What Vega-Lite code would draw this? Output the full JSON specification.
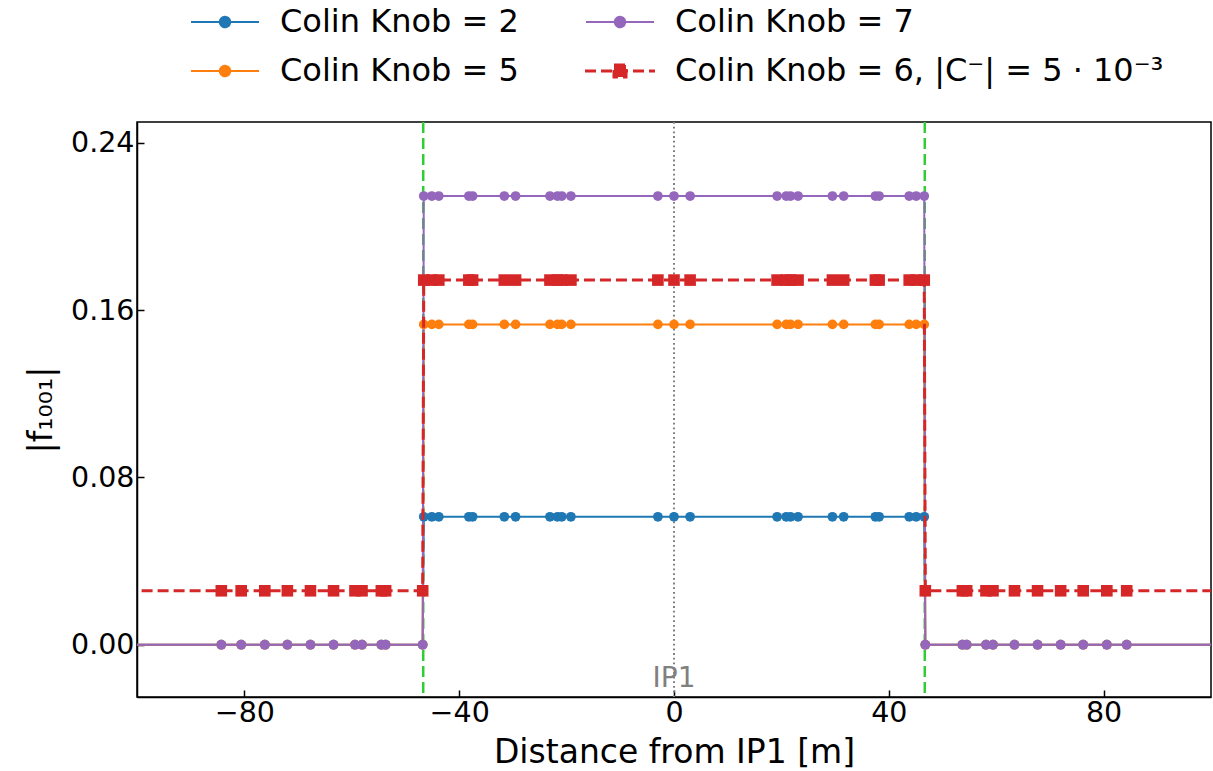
{
  "$schema": "https://vega.github.io/schema/vega-lite/v6.json",
  "width": 1074,
  "height": 575,
  "autosize": "none",
  "padding": {"left": 137, "top": 122, "right": 2, "bottom": 74},
  "config": {
    "font": "DejaVu Sans",
    "view": {"stroke": "#000000", "strokeWidth": 1.5},
    "axis": {
      "grid": false,
      "domainColor": "#000000",
      "domainWidth": 1.5,
      "tickColor": "#000000",
      "tickWidth": 1.5,
      "tickSize": -7,
      "labelFont": "DejaVu Sans",
      "labelFontSize": 28.5,
      "labelColor": "#000000",
      "titleFont": "DejaVu Sans",
      "titleFontSize": 33,
      "titleFontWeight": "normal",
      "titleColor": "#000000"
    }
  },
  "datasets": {
    "curves": [
      {"k":"2","x":-120,"y":0},{"k":"2","x":-84.3,"y":0},{"k":"2","x":-80.6,"y":0},{"k":"2","x":-76.2,"y":0},{"k":"2","x":-72.0,"y":0},{"k":"2","x":-67.7,"y":0},{"k":"2","x":-63.4,"y":0},{"k":"2","x":-59.4,"y":0},{"k":"2","x":-58.1,"y":0},{"k":"2","x":-54.5,"y":0},{"k":"2","x":-53.7,"y":0},{"k":"2","x":-46.8,"y":0},
      {"k":"2","x":-46.6,"y":0.0612},{"k":"2","x":-45.1,"y":0.0612},{"k":"2","x":-43.8,"y":0.0612},{"k":"2","x":-38.2,"y":0.0612},{"k":"2","x":-37.5,"y":0.0612},{"k":"2","x":-31.6,"y":0.0612},{"k":"2","x":-29.5,"y":0.0612},{"k":"2","x":-23.1,"y":0.0612},{"k":"2","x":-21.7,"y":0.0612},{"k":"2","x":-20.9,"y":0.0612},{"k":"2","x":-19.2,"y":0.0612},{"k":"2","x":-3.0,"y":0.0612},{"k":"2","x":0,"y":0.0612},{"k":"2","x":3.0,"y":0.0612},{"k":"2","x":19.2,"y":0.0612},{"k":"2","x":20.9,"y":0.0612},{"k":"2","x":21.7,"y":0.0612},{"k":"2","x":23.1,"y":0.0612},{"k":"2","x":29.5,"y":0.0612},{"k":"2","x":31.6,"y":0.0612},{"k":"2","x":37.5,"y":0.0612},{"k":"2","x":38.2,"y":0.0612},{"k":"2","x":43.8,"y":0.0612},{"k":"2","x":45.1,"y":0.0612},{"k":"2","x":46.6,"y":0.0612},
      {"k":"2","x":46.8,"y":0},{"k":"2","x":53.7,"y":0},{"k":"2","x":54.5,"y":0},{"k":"2","x":58.1,"y":0},{"k":"2","x":59.4,"y":0},{"k":"2","x":63.4,"y":0},{"k":"2","x":67.7,"y":0},{"k":"2","x":72.0,"y":0},{"k":"2","x":76.2,"y":0},{"k":"2","x":80.6,"y":0},{"k":"2","x":84.3,"y":0},{"k":"2","x":120,"y":0},

      {"k":"5","x":-120,"y":0},{"k":"5","x":-84.3,"y":0},{"k":"5","x":-80.6,"y":0},{"k":"5","x":-76.2,"y":0},{"k":"5","x":-72.0,"y":0},{"k":"5","x":-67.7,"y":0},{"k":"5","x":-63.4,"y":0},{"k":"5","x":-59.4,"y":0},{"k":"5","x":-58.1,"y":0},{"k":"5","x":-54.5,"y":0},{"k":"5","x":-53.7,"y":0},{"k":"5","x":-46.8,"y":0},
      {"k":"5","x":-46.6,"y":0.1532},{"k":"5","x":-45.1,"y":0.1532},{"k":"5","x":-43.8,"y":0.1532},{"k":"5","x":-38.2,"y":0.1532},{"k":"5","x":-37.5,"y":0.1532},{"k":"5","x":-31.6,"y":0.1532},{"k":"5","x":-29.5,"y":0.1532},{"k":"5","x":-23.1,"y":0.1532},{"k":"5","x":-21.7,"y":0.1532},{"k":"5","x":-20.9,"y":0.1532},{"k":"5","x":-19.2,"y":0.1532},{"k":"5","x":-3.0,"y":0.1532},{"k":"5","x":0,"y":0.1532},{"k":"5","x":3.0,"y":0.1532},{"k":"5","x":19.2,"y":0.1532},{"k":"5","x":20.9,"y":0.1532},{"k":"5","x":21.7,"y":0.1532},{"k":"5","x":23.1,"y":0.1532},{"k":"5","x":29.5,"y":0.1532},{"k":"5","x":31.6,"y":0.1532},{"k":"5","x":37.5,"y":0.1532},{"k":"5","x":38.2,"y":0.1532},{"k":"5","x":43.8,"y":0.1532},{"k":"5","x":45.1,"y":0.1532},{"k":"5","x":46.6,"y":0.1532},
      {"k":"5","x":46.8,"y":0},{"k":"5","x":53.7,"y":0},{"k":"5","x":54.5,"y":0},{"k":"5","x":58.1,"y":0},{"k":"5","x":59.4,"y":0},{"k":"5","x":63.4,"y":0},{"k":"5","x":67.7,"y":0},{"k":"5","x":72.0,"y":0},{"k":"5","x":76.2,"y":0},{"k":"5","x":80.6,"y":0},{"k":"5","x":84.3,"y":0},{"k":"5","x":120,"y":0},

      {"k":"7","x":-120,"y":0},{"k":"7","x":-84.3,"y":0},{"k":"7","x":-80.6,"y":0},{"k":"7","x":-76.2,"y":0},{"k":"7","x":-72.0,"y":0},{"k":"7","x":-67.7,"y":0},{"k":"7","x":-63.4,"y":0},{"k":"7","x":-59.4,"y":0},{"k":"7","x":-58.1,"y":0},{"k":"7","x":-54.5,"y":0},{"k":"7","x":-53.7,"y":0},{"k":"7","x":-46.8,"y":0},
      {"k":"7","x":-46.6,"y":0.2146},{"k":"7","x":-45.1,"y":0.2146},{"k":"7","x":-43.8,"y":0.2146},{"k":"7","x":-38.2,"y":0.2146},{"k":"7","x":-37.5,"y":0.2146},{"k":"7","x":-31.6,"y":0.2146},{"k":"7","x":-29.5,"y":0.2146},{"k":"7","x":-23.1,"y":0.2146},{"k":"7","x":-21.7,"y":0.2146},{"k":"7","x":-20.9,"y":0.2146},{"k":"7","x":-19.2,"y":0.2146},{"k":"7","x":-3.0,"y":0.2146},{"k":"7","x":0,"y":0.2146},{"k":"7","x":3.0,"y":0.2146},{"k":"7","x":19.2,"y":0.2146},{"k":"7","x":20.9,"y":0.2146},{"k":"7","x":21.7,"y":0.2146},{"k":"7","x":23.1,"y":0.2146},{"k":"7","x":29.5,"y":0.2146},{"k":"7","x":31.6,"y":0.2146},{"k":"7","x":37.5,"y":0.2146},{"k":"7","x":38.2,"y":0.2146},{"k":"7","x":43.8,"y":0.2146},{"k":"7","x":45.1,"y":0.2146},{"k":"7","x":46.6,"y":0.2146},
      {"k":"7","x":46.8,"y":0},{"k":"7","x":53.7,"y":0},{"k":"7","x":54.5,"y":0},{"k":"7","x":58.1,"y":0},{"k":"7","x":59.4,"y":0},{"k":"7","x":63.4,"y":0},{"k":"7","x":67.7,"y":0},{"k":"7","x":72.0,"y":0},{"k":"7","x":76.2,"y":0},{"k":"7","x":80.6,"y":0},{"k":"7","x":84.3,"y":0},{"k":"7","x":120,"y":0},

      {"k":"6","x":-120,"y":0.0258},{"k":"6","x":-84.3,"y":0.0258},{"k":"6","x":-80.6,"y":0.0258},{"k":"6","x":-76.2,"y":0.0258},{"k":"6","x":-72.0,"y":0.0258},{"k":"6","x":-67.7,"y":0.0258},{"k":"6","x":-63.4,"y":0.0258},{"k":"6","x":-59.4,"y":0.0258},{"k":"6","x":-58.1,"y":0.0258},{"k":"6","x":-54.5,"y":0.0258},{"k":"6","x":-53.7,"y":0.0258},{"k":"6","x":-46.8,"y":0.0258},
      {"k":"6","x":-46.6,"y":0.1744},{"k":"6","x":-45.1,"y":0.1744},{"k":"6","x":-43.8,"y":0.1744},{"k":"6","x":-38.2,"y":0.1744},{"k":"6","x":-37.5,"y":0.1744},{"k":"6","x":-31.6,"y":0.1744},{"k":"6","x":-29.5,"y":0.1744},{"k":"6","x":-23.1,"y":0.1744},{"k":"6","x":-21.7,"y":0.1744},{"k":"6","x":-20.9,"y":0.1744},{"k":"6","x":-19.2,"y":0.1744},{"k":"6","x":-3.0,"y":0.1744},{"k":"6","x":0,"y":0.1744},{"k":"6","x":3.0,"y":0.1744},{"k":"6","x":19.2,"y":0.1744},{"k":"6","x":20.9,"y":0.1744},{"k":"6","x":21.7,"y":0.1744},{"k":"6","x":23.1,"y":0.1744},{"k":"6","x":29.5,"y":0.1744},{"k":"6","x":31.6,"y":0.1744},{"k":"6","x":37.5,"y":0.1744},{"k":"6","x":38.2,"y":0.1744},{"k":"6","x":43.8,"y":0.1744},{"k":"6","x":45.1,"y":0.1744},{"k":"6","x":46.6,"y":0.1744},
      {"k":"6","x":46.8,"y":0.0258},{"k":"6","x":53.7,"y":0.0258},{"k":"6","x":54.5,"y":0.0258},{"k":"6","x":58.1,"y":0.0258},{"k":"6","x":59.4,"y":0.0258},{"k":"6","x":63.4,"y":0.0258},{"k":"6","x":67.7,"y":0.0258},{"k":"6","x":72.0,"y":0.0258},{"k":"6","x":76.2,"y":0.0258},{"k":"6","x":80.6,"y":0.0258},{"k":"6","x":84.3,"y":0.0258},{"k":"6","x":120,"y":0.0258}
    ],
    "ir": [{"x": -46.7}, {"x": 46.7}],
    "ip": [{"x": 0, "label": "IP1"}]
  },
  "layer": [
    {
      "data": {"name": "ir"},
      "mark": {"type": "rule", "color": "#32CD32", "strokeWidth": 2.5, "strokeDash": [11, 5]},
      "encoding": {
        "x": {"field": "x", "type": "quantitative", "scale": {"domain": [-100, 100], "nice": false, "zero": false}}
      }
    },
    {
      "data": {"name": "ip"},
      "mark": {"type": "rule", "color": "#808080", "strokeWidth": 2, "strokeDash": [1.8, 2.9]},
      "encoding": {
        "x": {"field": "x", "type": "quantitative"}
      }
    },
    {
      "data": {"name": "curves"},
      "transform": [{"filter": "datum.k != '6'"}],
      "mark": {"type": "line", "strokeWidth": 2, "clip": true},
      "encoding": {
        "x": {"field": "x", "type": "quantitative", "scale": {"domain": [-100, 100], "nice": false, "zero": false},
              "axis": {"values": [-80, -40, 0, 40, 80], "title": "Distance from IP1 [m]", "labelPadding": 8, "titlePadding": 10}},
        "y": {"field": "y", "type": "quantitative", "scale": {"domain": [-0.025, 0.25], "nice": false, "zero": false},
              "axis": {"values": [0, 0.08, 0.16, 0.24], "format": ".2f", "title": "|f₁₀₀₁|", "labelPadding": 10, "titlePadding": 12}},
        "color": {
          "field": "k", "type": "nominal",
          "scale": {"domain": ["2", "7", "5", "6"], "range": ["#1f77b4", "#9467bd", "#ff7f0e", "#d62728"]},
          "legend": {
            "orient": "none", "legendX": 72, "legendY": -116, "title": null, "columns": 2,
            "direction": "horizontal", "padding": 0, "symbolSize": 1600, "symbolStrokeWidth": 2,
            "labelFont": "DejaVu Sans", "labelFontSize": 32, "labelColor": "#000000", "labelLimit": 1000,
            "labelOffset": 39, "columnPadding": 60, "rowPadding": 17,
            "labelExpr": "datum.value == '6' ? 'Colin Knob = 6, |C⁻| = 5 · 10⁻³' : 'Colin Knob = ' + datum.value",
            "encode": {
              "symbols": {
                "update": {
                  "shape": {"signal": "datum.value == '6' ? 'M-1.75,0H1.75M-0.3,-0.3H0.3V0.3H-0.3Z' : 'M-1.7,0H1.7M-0.26,0A0.26,0.26 0 1,1 0.26,0A0.26,0.26 0 1,1 -0.26,0Z'"},
                  "fill": {"signal": "scale('color', datum.value)"},
                  "stroke": {"signal": "scale('color', datum.value)"},
                  "strokeDash": {"signal": "datum.value == '6' ? [11, 5] : [1, 0]"},
                  "strokeWidth": {"signal": "datum.value == '6' ? 3 : 2"},
                  "opacity": {"value": 1}
                }
              }
            }
          }
        }
      }
    },
    {
      "data": {"name": "curves"},
      "transform": [{"filter": "datum.k != '6'"}],
      "mark": {"type": "point", "shape": "circle", "filled": true, "size": 95, "opacity": 1, "clip": true},
      "encoding": {
        "x": {"field": "x", "type": "quantitative"},
        "y": {"field": "y", "type": "quantitative"},
        "color": {"field": "k", "type": "nominal"}
      }
    },
    {
      "data": {"name": "curves"},
      "transform": [{"filter": "datum.k == '6'"}],
      "mark": {"type": "line", "strokeWidth": 3, "strokeDash": [11, 5], "clip": true},
      "encoding": {
        "x": {"field": "x", "type": "quantitative"},
        "y": {"field": "y", "type": "quantitative"},
        "color": {"field": "k", "type": "nominal"}
      }
    },
    {
      "data": {"name": "curves"},
      "transform": [{"filter": "datum.k == '6'"}],
      "mark": {"type": "point", "shape": "square", "filled": true, "size": 135, "opacity": 1, "clip": true},
      "encoding": {
        "x": {"field": "x", "type": "quantitative"},
        "y": {"field": "y", "type": "quantitative"},
        "color": {"field": "k", "type": "nominal"}
      }
    },
    {
      "data": {"name": "ip"},
      "mark": {"type": "text", "color": "#808080", "fontSize": 28, "font": "DejaVu Sans", "align": "center", "baseline": "alphabetic"},
      "encoding": {
        "x": {"field": "x", "type": "quantitative"},
        "y": {"datum": -0.0202, "type": "quantitative"},
        "text": {"field": "label"}
      }
    }
  ]
}
